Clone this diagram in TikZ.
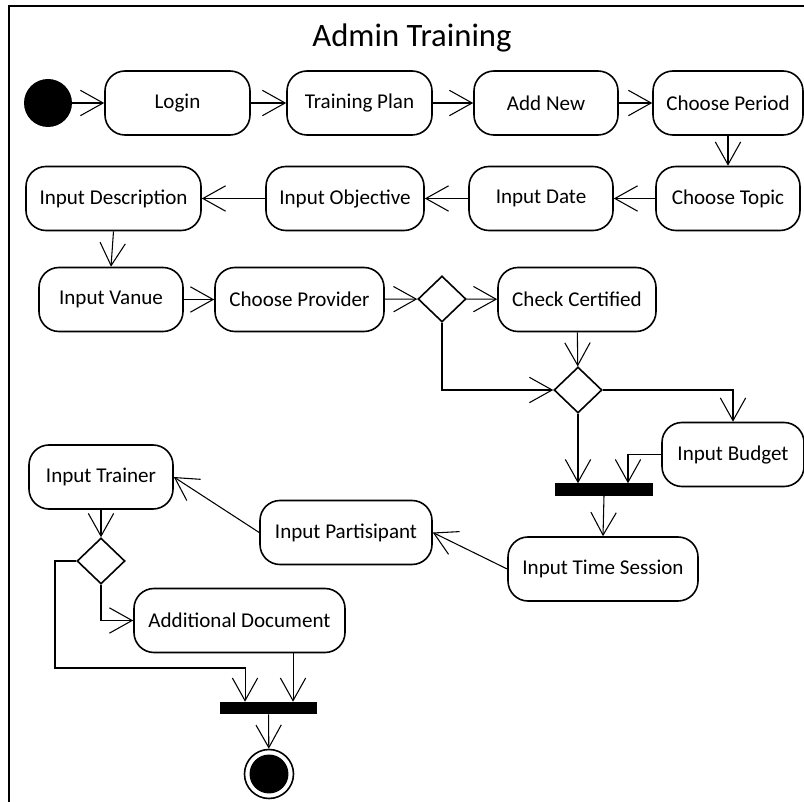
\documentclass[tikz,border=0pt]{standalone}
\usepackage{fontspec}
\setmainfont{Carlito}
\usetikzlibrary{arrows.meta,shapes.geometric}

\begin{document}
\begin{tikzpicture}[x=0.75pt,y=-0.75pt, every node/.style={font=\fontsize{15.8}{18}\selectfont},
    act/.style={draw,rounded corners=15pt,line width=1.2pt,inner sep=0pt,
                minimum height=48pt,minimum width=#1*0.75pt},
    decision/.style={draw,diamond,line width=1.2pt,inner sep=0pt,
                minimum width=36pt,minimum height=34.5pt},
    bar/.style={fill=black,inner sep=0pt,minimum height=9pt,minimum width=#1*0.75pt},
    flow/.style={-{Straight Barb[length=17pt,width=19pt]},line width=0.8pt}]

  \useasboundingbox (0,0) rectangle (804,802);

  % Frame and title
  \draw[line width=1.5pt] (9,802) -- (9,6) -- (804,6);
  \node[font=\fontsize{24.5}{28}\selectfont] (title) at (412,38) {Admin Training};

  % Row 1
  \node[circle,fill=black,inner sep=0pt,minimum size=36pt] (start) at (48,103) {};
  \node[act=145] (login)  at (177.5,103) {Login};
  \node[act=145] (plan)   at (359.5,103) {Training Plan};
  \node[act=144] (addnew) at (546,103)   {Add New};
  \node[act=150] (period) at (728,103)   {Choose Period};

  % Row 2 (right to left)
  \node[act=144] (topic)     at (728,198.5)   {Choose Topic};
  \node[act=144] (date)      at (541,198.5)   {Input Date};
  \node[act=158] (objective) at (345,198.5)   {Input Objective};
  \node[act=175] (desc)      at (113.5,198.5) {Input Description};

  % Row 3
  \node[act=144] (vanue)     at (111,299.5)   {Input Vanue};
  \node[act=169] (provider)  at (299.5,299.5) {Choose Provider};
  \node[decision] (dia1)     at (442,299)     {};
  \node[act=158] (certified) at (577,299.5)   {Check Certified};
  \node[decision] (dia2)     at (578,390)     {};

  % Budget and first join
  \node[act=142] (budget)   at (733,454.5) {Input Budget};
  \node[bar=98] (join1)     at (604,489.5) {};
  \node[act=190] (session)  at (603,569)   {Input Time Session};
  \node[act=172] (peserta)  at (346,532.5) {Input Partisipant};
  \node[act=144] (trainer)  at (101,477)   {Input Trainer};
  \node[decision] (dia3)    at (101,561)   {};
  \node[act=211] (adddoc)   at (239.5,620.5) {Additional Document};

  % Final join and end node
  \node[bar=97] (join2) at (268.5,708) {};
  \node[circle,draw,line width=1.2pt,inner sep=0pt,minimum size=36.75pt,
        path picture={\fill (path picture bounding box.center) circle (14.6pt);}]
    (final) at (269,774) {};

  \coordinate (jb) at ([xshift=18pt]join1.north);
  \coordinate (ja) at ([xshift=-17.6pt]join2.north);
  \coordinate (jc) at ([xshift=18.4pt]join2.north);
  \coordinate (bend) at (55,668);

  % Flows
  \draw[flow] (start) -- (login);
  \draw[flow] (login) -- (plan);
  \draw[flow] (plan) -- (addnew);
  \draw[flow] (addnew) -- (period);
  \draw[flow] (period) -- (topic);
  \draw[flow] (topic) -- (date);
  \draw[flow] (date) -- (objective);
  \draw[flow] (objective) -- (desc);
  \draw[flow] (desc.south) -- (vanue.north);
  \draw[flow] (vanue) -- (provider);
  \draw[flow] (provider) -- (dia1);
  \draw[flow] (dia1) -- (certified);
  \draw[flow] (certified) -- (dia2);
  \draw[flow] (dia1.south) |- (dia2.west);
  \draw[flow] (dia2.east) -| (budget.north);
  \draw[flow] (dia2.south) -- (dia2.south |- join1.north);
  \draw[flow] (budget.west) -| (jb);
  \draw[flow] (join1.south) -- (session.north);
  \draw[flow] (session.west) -- (peserta.east);
  \draw[flow] (peserta.west) -- (trainer.east);
  \draw[flow] (trainer) -- (dia3);
  \draw[flow] (dia3.south) |- (adddoc.west);
  \draw[flow] (dia3.west) -| (bend) -| (ja);
  \draw[flow] (adddoc.south -| jc) -- (jc);
  \draw[flow] (join2) -- (final);

\end{tikzpicture}
\end{document}
